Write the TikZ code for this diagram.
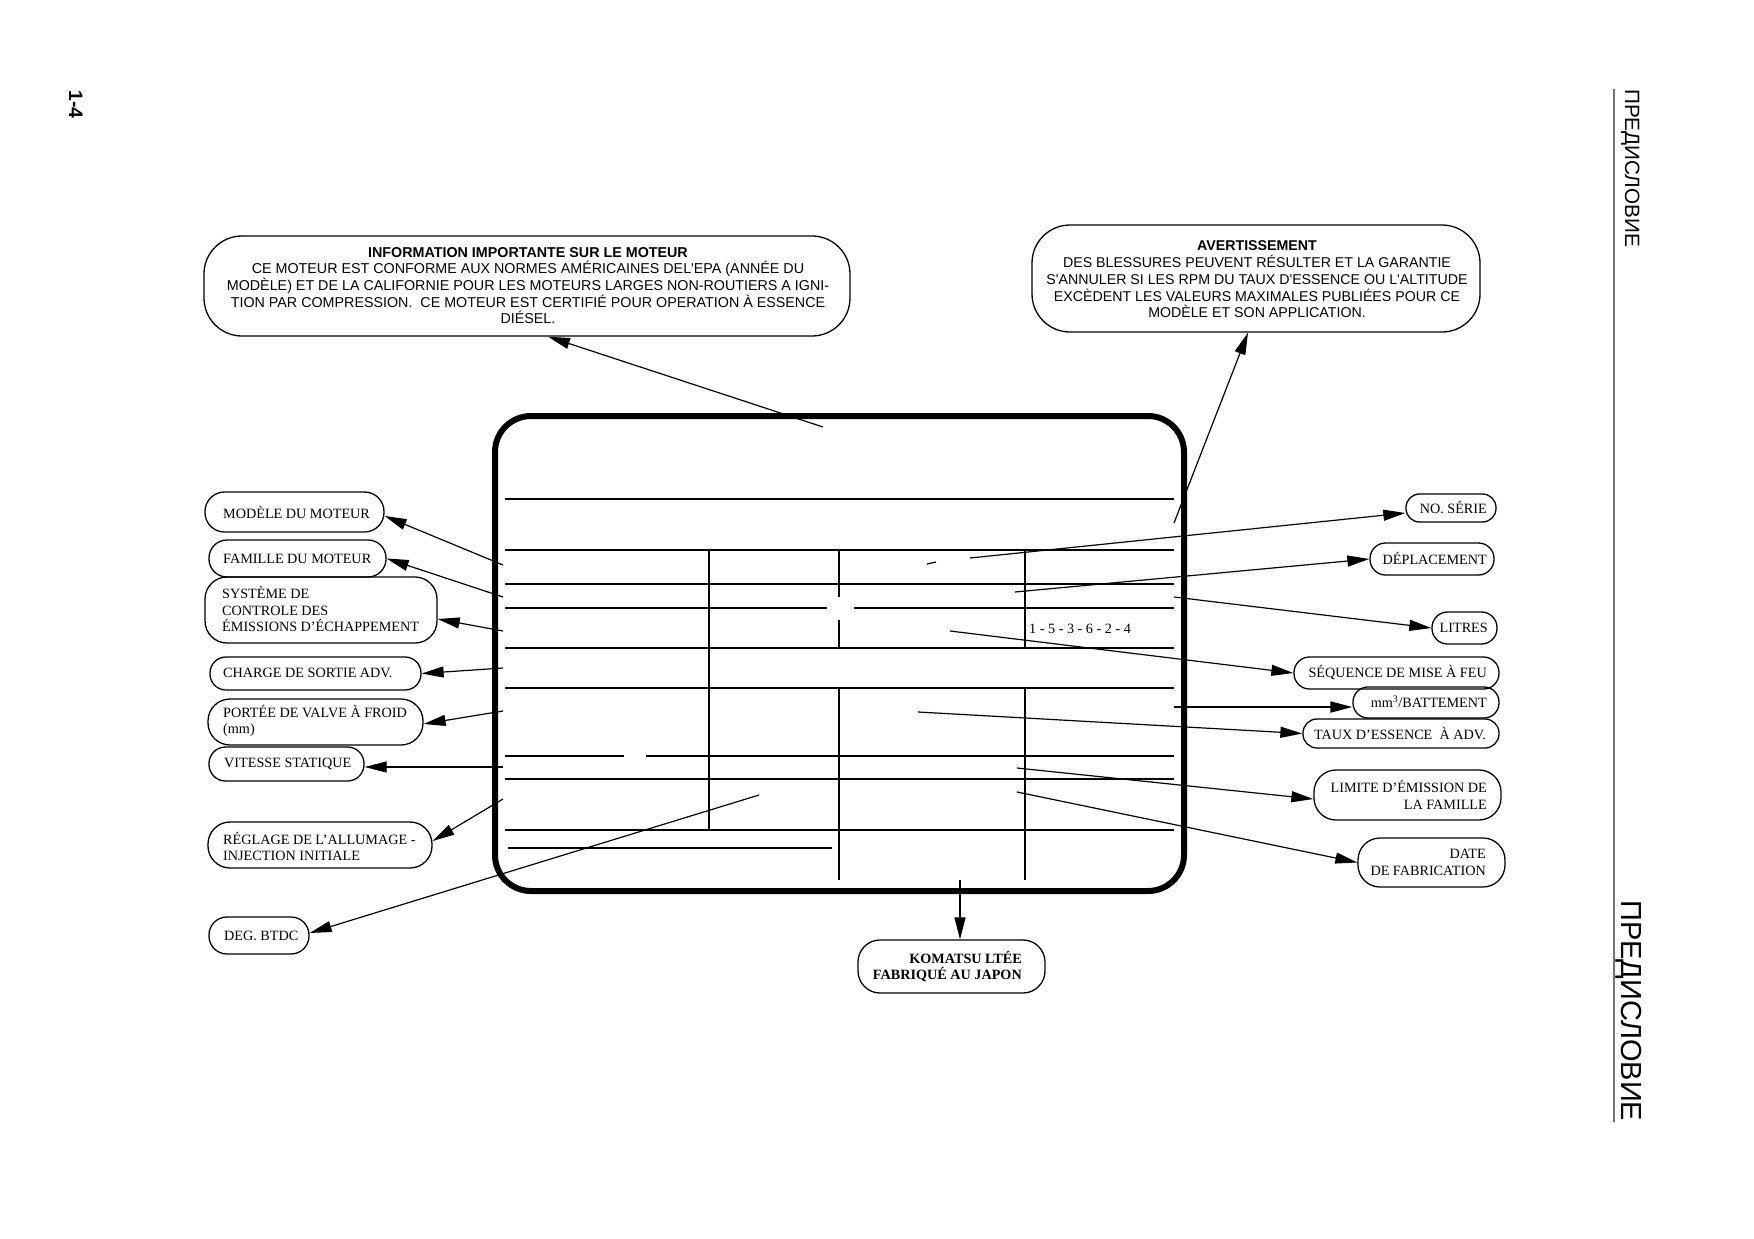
\documentclass[tikz,border=0pt]{standalone}
\usepackage{fontspec}
\setmainfont{Liberation Serif}
\newfontfamily\sansf{Liberation Sans}
\usetikzlibrary{arrows.meta}
\newcommand\mybox[6]{%
  \pgfmathsetmacro\mbw{#5-#3}%
  \pgfmathsetmacro\mbh{#6-#4}%
  \pgfmathsetmacro\mbr{min(\mbh/2-0.5,22)}%
  \pgfmathsetmacro\mbx{(#3+#5)/2}%
  \pgfmathsetmacro\mby{(#4+#6)/2}%
  \node[lbl,rounded corners=\mbr pt,#1,minimum width=\mbw pt,minimum height=\mbh pt] (#2) at (\mbx,\mby) {};}
\begin{document}
\begin{tikzpicture}[x=1pt,y=-1pt,
  lbl/.style={draw, line width=1.3pt, inner sep=0pt},
  big/.style={rounded corners=38pt},
  lt/.style={inner sep=0pt, font=\fontsize{14.2}{16.5}\selectfont},
  st/.style={inner sep=0pt, align=center, font=\sansf\fontsize{14.3}{16.7}\selectfont},
  conn/.style={line width=1.2pt, -{Triangle[length=22pt,width=11pt]}},
  pl/.style={line width=1.4pt},
  side/.style={rotate=-90, anchor=base west, inner sep=0pt}
]
\useasboundingbox (0,0) rectangle (1754,1239);

% ---- plate ----
\node[draw, line width=6pt, rounded corners=36pt, minimum width=689pt, minimum height=475pt, inner sep=0pt] (plate) at (839.5,653.5) {};
\foreach \yy in {499,550,584,648,688,779,830} \draw[pl] (505,\yy) -- (1174,\yy);
\draw[pl] (505,608) -- (827,608);
\draw[pl] (854,608) -- (1174,608);
\draw[pl, line width=2.4pt] (505,756) -- (624,756);
\draw[pl, line width=2.4pt] (646,756) -- (1174,756);
\draw[pl] (508,848) -- (832,848);
\draw[pl] (709,550) -- (709,830);
\draw[pl] (839,550) -- (839,597);
\draw[pl] (839,620) -- (839,648);
\draw[pl] (839,688) -- (839,880);
\draw[pl] (1025,550) -- (1025,648);
\draw[pl] (1025,688) -- (1025,880);
\draw[line width=1.2pt] (927,564) -- (936,562);
\node[lt, anchor=west] (firing) at (1029,629) {1 - 5 - 3 - 6 - 2 - 4};

% ---- boxes ----
\mybox{big}{info}{204}{236}{850}{336}
\mybox{big}{avert}{1032}{225}{1480}{332}
\mybox{}{modele}{205}{492}{384}{532}
\mybox{}{famille}{209}{540}{386}{577}
\mybox{}{systeme}{205}{577}{437}{643}
\mybox{}{charge}{210}{657}{421}{690}
\mybox{}{portee}{208}{699}{423}{745}
\mybox{}{vitesse}{209}{747}{364}{781}
\mybox{}{reglage}{208}{822}{432}{868}
\mybox{}{deg}{209}{917}{309}{954}
\mybox{}{serie}{1406}{494}{1496}{522}
\mybox{}{depl}{1370}{543}{1494}{575}
\mybox{}{litres}{1432}{612}{1497}{644}
\mybox{}{seq}{1294}{657}{1499}{689}
\mybox{}{mm}{1353}{687}{1499}{718}
\mybox{}{taux}{1303}{719}{1499}{748}
\mybox{}{limite}{1314}{770}{1501}{820}
\mybox{}{date}{1358}{838}{1505}{887}
\mybox{}{komatsu}{858}{940}{1045}{993}

% ---- texts ----
\node[st] (t-info) at (528,285.5) {\textbf{INFORMATION IMPORTANTE SUR LE MOTEUR}\\
CE MOTEUR EST CONFORME AUX NORMES AMÉRICAINES DEL'EPA (ANNÉE DU\\
MODÈLE) ET DE LA CALIFORNIE POUR LES MOTEURS LARGES NON-ROUTIERS A IGNI-\\
TION PAR COMPRESSION.\ \ CE MOTEUR EST CERTIFIÉ POUR OPERATION À ESSENCE\\
DIÉSEL.};
\node[st, font=\sansf\fontsize{14.2}{16.7}\selectfont] (t-avert) at (1257,279.5) {\textbf{AVERTISSEMENT}\\
DES BLESSURES PEUVENT RÉSULTER ET LA GARANTIE\\
S'ANNULER SI LES RPM DU TAUX D'ESSENCE OU L'ALTITUDE\\
EXCÈDENT LES VALEURS MAXIMALES PUBLIÉES POUR CE\\
MODÈLE ET SON APPLICATION.};

\node[lt, anchor=west] (t-modele) at (223,512) {MODÈLE DU MOTEUR};
\node[lt, anchor=west] (t-famille) at (223,558.5) {FAMILLE DU MOTEUR};
\node[lt, anchor=west, align=left] (t-systeme) at (222,609) {SYSTÈME DE\\CONTROLE DES\\ÉMISSIONS D’ÉCHAPPEMENT};
\node[lt, anchor=west] (t-charge) at (223,673) {CHARGE DE SORTIE ADV.};
\node[lt, anchor=west, align=left] (t-portee) at (223,721) {PORTÉE DE VALVE À FROID\\(mm)};
\node[lt, anchor=west] (t-vitesse) at (224,764) {VITESSE STATIQUE};
\node[lt, anchor=west, align=left] (t-reglage) at (223,846.5) {RÉGLAGE DE L’ALLUMAGE -\\INJECTION INITIALE};
\node[lt, anchor=west] (t-deg) at (224,936) {DEG. BTDC};

\node[lt, anchor=east] (t-serie) at (1487,508) {NO. SÉRIE};
\node[lt, anchor=east] (t-depl) at (1487,558.5) {DÉPLACEMENT};
\node[lt, anchor=east] (t-litres) at (1488,628) {LITRES};
\node[lt, anchor=east] (t-seq) at (1487,672.5) {SÉQUENCE DE MISE À FEU};
\node[lt, anchor=east] (t-mm) at (1487,701.5) {mm\textsuperscript{3}/BATTEMENT};
\node[lt, anchor=east] (t-taux) at (1486,733.5) {TAUX D’ESSENCE\ \ À ADV.};
\node[lt, anchor=east, align=right] (t-limite) at (1487,795) {LIMITE D’ÉMISSION DE\\LA FAMILLE};
\node[lt, anchor=east, align=right] (t-date) at (1486,862.5) {DATE\\DE FABRICATION};
\node[lt, anchor=east, align=right, font=\bfseries\fontsize{14.2}{16.5}\selectfont] (t-komatsu) at (1022,966.5) {KOMATSU LTÉE\\FABRIQUÉ AU JAPON};

% ---- connector start points ----
\coordinate (s-info) at (823,427);
\coordinate (s-avert) at (1174,523);
\coordinate (s-modele) at (503,565);
\coordinate (s-famille) at (503,597);
\coordinate (s-systeme) at (503,631);
\coordinate (s-charge) at (503,668);
\coordinate (s-portee) at (503,711);
\coordinate (s-vitesse) at (503,767);
\coordinate (s-reglage) at (503,799);
\coordinate (s-deg) at (759,795);
\coordinate (s-serie) at (970,558);
\coordinate (s-depl) at (1015,592);
\coordinate (s-litres) at (1174,597);
\coordinate (s-seq) at (950,631);
\coordinate (s-mm) at (1174,707);
\coordinate (s-taux) at (918,712);
\coordinate (s-limite) at (1017,768);
\coordinate (s-date) at (1017,792);
\coordinate (s-komatsu) at (960,880);

% ---- connectors ----
\draw[conn] (s-info) -- ([xshift=21pt]info.south);
\draw[conn] (s-avert) -- ([xshift=-8pt]avert.south);
\draw[conn] (s-modele) -- ([yshift=-4pt]modele.east);
\draw[conn] (s-famille) -- (famille.east);
\draw[conn] (s-systeme) -- ([yshift=-9pt]systeme.east);
\draw[conn] (s-charge) -- (charge.east);
\draw[conn] (s-portee) -- ([yshift=-2pt]portee.east);
\draw[conn] (s-vitesse) -- ([yshift=-3pt]vitesse.east);
\draw[conn] (s-reglage) -- ([yshift=4pt]reglage.east);
\draw[conn] (s-deg) -- ([yshift=2.5pt]deg.east);
\draw[conn] (s-serie) -- ([yshift=-5pt]serie.west);
\draw[conn] (s-depl) -- (depl.west);
\draw[conn] (s-litres) -- (litres.west);
\draw[conn] (s-seq) -- (seq.west);
\draw[conn, line width=2pt] (s-mm) -- ([yshift=-4.5pt]mm.west);
\draw[conn] (s-taux) -- (taux.west);
\draw[conn] (s-limite) -- ([yshift=-4pt]limite.west);
\draw[conn] (s-date) -- (date.west);
\draw[conn] (s-komatsu) -- ([xshift=8.5pt]komatsu.north);

% ---- page furniture ----
\draw[line width=1.3pt, black!55] (1614,89) -- (1614,1122);
\node[side, font=\sansf\fontsize{20.7}{20.7}\selectfont] (hdr1) at (1625,89) {ПРЕДИСЛОВИЕ};
\node[side, font=\sansf\fontsize{29}{29}\selectfont] (hdr2) at (1621,900) {ПРЕДИСЛОВИЕ};
\node[side, font=\sansf\bfseries\fontsize{19.5}{19.5}\selectfont] (pg) at (69,90) {1-4};
\end{tikzpicture}
\end{document}
